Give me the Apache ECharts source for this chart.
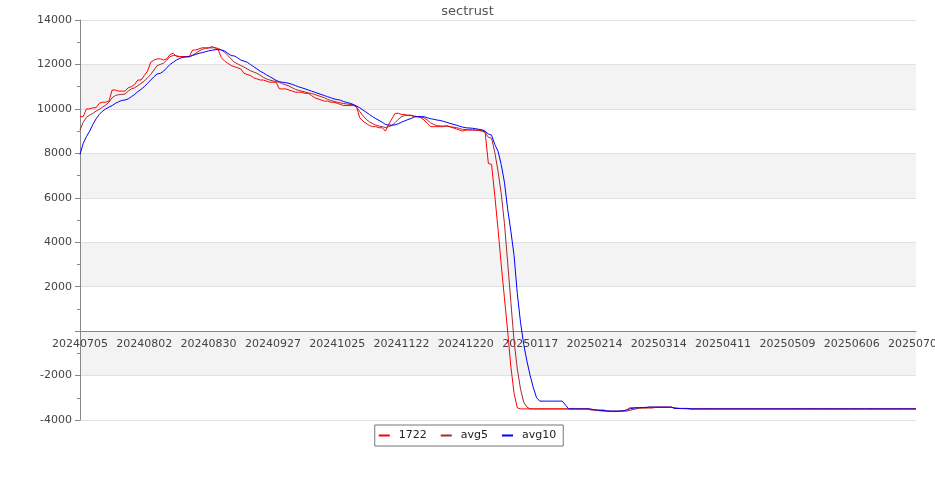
<!DOCTYPE html>
<html><head><meta charset="utf-8">
<script src="https://cdn.jsdelivr.net/npm/echarts@6/dist/echarts.min.js"></script>
<style>html,body{margin:0;padding:0;background:#fff}#c{width:935px;height:500px}</style>
</head><body><div id="c"></div>
<script>
// categories: weekdays from 20240705 (label every 20th)
var startDate = '20240705';
var categoryCount = 261;
var seriesNames = ['1722', 'avg5', 'avg10'];

var s1722 = [
9650,9650,10000,10000,10050,10050,10250,10300,10300,10350,
10850,10850,10800,10800,10800,10950,11000,11100,11300,11300,
11500,11700,12100,12200,12250,12250,12200,12250,12450,12500,
12350,12350,12350,12350,12350,12650,12650,12700,12750,12750,
12750,12800,12750,12650,12300,12150,12050,11950,11900,11850,
11800,11600,11550,11500,11400,11350,11300,11300,11250,11200,
11200,11200,10900,10900,10900,10850,10800,10750,10750,10750,
10700,10700,10600,10500,10450,10400,10350,10350,10300,10300,
10250,10200,10150,10150,10150,10150,10100,9600,9450,9350,
9250,9200,9200,9150,9150,9000,9300,9550,9800,9800,
9750,9750,9700,9700,9650,9650,9600,9500,9350,9200,
9200,9200,9200,9200,9250,9200,9150,9100,9050,9000,
9050,9050,9050,9050,9050,9000,8950,7550,7500,6100,
4600,3000,1500,0,-1600,-2800,-3450,-3500,-3500,-3500,
-3500,-3500,-3500,-3500,-3500,-3500,-3500,-3500,-3500,-3500,
-3500,-3500,-3500,-3500,-3500,-3500,-3500,-3500,-3500,-3550,
-3550,-3550,-3550,-3550,-3620,-3620,-3620,-3620,-3600,-3600,
-3550,-3450,-3450,-3450,-3450,-3450,-3450,-3420,-3420,-3420,
-3420,-3420,-3420,-3420,-3420,-3480,-3480,-3480,-3480,-3480,
-3500,-3500,-3500,-3500,-3500,-3500,-3500,-3500,-3500,-3500,
-3500,-3500,-3500,-3500,-3500,-3500,-3500,-3500,-3500,-3500,
-3500,-3500,-3500,-3500,-3500,-3500,-3500,-3500,-3500,-3500,
-3500,-3500,-3500,-3500,-3500,-3500,-3500,-3500,-3500,-3500,
-3500,-3500,-3500,-3500,-3500,-3500,-3500,-3500,-3500,-3500,
-3500,-3500,-3500,-3500,-3500,-3500,-3500,-3500,-3500,-3500,
-3500,-3500,-3500,-3500,-3500,-3500,-3500,-3500,-3500,-3500,
-3500
];

var avg5 = [
9050,9400,9620,9720,9800,9900,9980,10080,10170,10300,
10500,10600,10640,10650,10670,10800,10900,10950,11050,11150,
11250,11400,11550,11750,11950,12000,12060,12200,12350,12400,
12400,12350,12350,12350,12350,12420,12500,12600,12680,12720,
12740,12750,12750,12720,12650,12550,12400,12250,12100,12030,
11950,11880,11800,11720,11660,11600,11520,11420,11350,11300,
11260,11230,11200,11130,11080,11030,10950,10880,10830,10800,
10760,10720,10690,10650,10600,10550,10500,10430,10380,10340,
10300,10270,10240,10220,10200,10190,10080,9880,9700,9530,
9420,9340,9270,9230,9200,9160,9200,9250,9380,9530,
9650,9700,9720,9720,9680,9650,9630,9600,9500,9380,
9300,9250,9230,9230,9220,9200,9180,9160,9120,9080,
9070,9060,9050,9040,9030,9010,8950,8720,8680,8050,
7200,6200,4850,3100,1300,-450,-1700,-2600,-3200,-3420,
-3500,-3500,-3500,-3500,-3500,-3500,-3500,-3500,-3500,-3500,
-3500,-3500,-3500,-3500,-3500,-3500,-3500,-3500,-3500,-3510,
-3540,-3570,-3590,-3600,-3600,-3600,-3600,-3600,-3600,-3600,
-3600,-3570,-3530,-3500,-3460,-3460,-3460,-3460,-3460,-3430,
-3430,-3430,-3430,-3430,-3440,-3450,-3470,-3490,-3490,-3500,
-3500,-3500,-3500,-3500,-3500,-3500,-3500,-3500,-3500,-3500,
-3500,-3500,-3500,-3500,-3500,-3500,-3500,-3500,-3500,-3500,
-3500,-3500,-3500,-3500,-3500,-3500,-3500,-3500,-3500,-3500,
-3500,-3500,-3500,-3500,-3500,-3500,-3500,-3500,-3500,-3500,
-3500,-3500,-3500,-3500,-3500,-3500,-3500,-3500,-3500,-3500,
-3500,-3500,-3500,-3500,-3500,-3500,-3500,-3500,-3500,-3500,
-3500,-3500,-3500,-3500,-3500,-3500,-3500,-3500,-3500,-3500,
-3500
];

var avg10 = [
7950,8450,8750,9000,9300,9550,9750,9900,10000,10080,
10150,10250,10320,10380,10400,10450,10550,10650,10780,10880,
11000,11150,11300,11450,11570,11600,11700,11850,12000,12100,
12200,12270,12320,12340,12350,12400,12450,12500,12530,12570,
12610,12640,12660,12670,12650,12600,12500,12400,12380,12300,
12200,12150,12100,12000,11900,11800,11700,11620,11530,11450,
11370,11280,11220,11200,11180,11150,11100,11050,10990,10950,
10900,10850,10800,10750,10700,10650,10600,10550,10500,10450,
10420,10390,10330,10290,10250,10200,10130,10050,9950,9850,
9750,9650,9560,9480,9400,9300,9270,9270,9280,9330,
9400,9460,9520,9570,9640,9650,9650,9650,9600,9560,
9530,9500,9480,9440,9400,9350,9310,9270,9220,9180,
9150,9140,9130,9110,9080,9060,9000,8870,8820,8400,
8100,7500,6700,5500,4500,3400,1700,400,-600,-1350,
-2000,-2550,-3000,-3150,-3150,-3150,-3150,-3150,-3150,-3150,
-3150,-3330,-3500,-3500,-3500,-3500,-3500,-3500,-3500,-3520,
-3550,-3560,-3570,-3580,-3590,-3600,-3600,-3600,-3600,-3580,
-3550,-3500,-3470,-3450,-3450,-3440,-3430,-3420,-3420,-3420,
-3420,-3420,-3420,-3420,-3420,-3480,-3480,-3480,-3480,-3480,
-3500,-3500,-3500,-3500,-3500,-3500,-3500,-3500,-3500,-3500,
-3500,-3500,-3500,-3500,-3500,-3500,-3500,-3500,-3500,-3500,
-3500,-3500,-3500,-3500,-3500,-3500,-3500,-3500,-3500,-3500,
-3500,-3500,-3500,-3500,-3500,-3500,-3500,-3500,-3500,-3500,
-3500,-3500,-3500,-3500,-3500,-3500,-3500,-3500,-3500,-3500,
-3500,-3500,-3500,-3500,-3500,-3500,-3500,-3500,-3500,-3500,
-3500,-3500,-3500,-3500,-3500,-3500,-3500,-3500,-3500,-3500,
-3500
];

var yTicks = {min: -4000, max: 14000, step: 2000};

function buildDates(start, n) {
  var d = new Date(Date.UTC(+start.slice(0,4), +start.slice(4,6)-1, +start.slice(6,8)));
  var out = [];
  while (out.length < n) {
    var wd = d.getUTCDay();
    if (wd !== 0 && wd !== 6) {
      var m = d.getUTCMonth()+1, dd = d.getUTCDate();
      out.push('' + d.getUTCFullYear() + (m<10?'0':'') + m + (dd<10?'0':'') + dd);
    }
    d.setUTCDate(d.getUTCDate()+1);
  }
  return out;
}
var categories = buildDates(startDate, categoryCount);

var GRID_TOP = 20, GRID_BOTTOM = 80, H = 500;
var plotH = H - GRID_TOP - GRID_BOTTOM;
// shift the category axis up so it sits on the value 0
var zeroOffset = -plotH * (0 - yTicks.min) / (yTicks.max - yTicks.min);

var FONT = 'DejaVu Sans';
var chart = echarts.init(document.getElementById('c'), null, {renderer: 'canvas'});
chart.setOption({
  animation: false,
  backgroundColor: '#fff',
  textStyle: {fontFamily: FONT},
  title: {
    text: 'sectrust', left: 'center', top: 0,
    textStyle: {fontFamily: FONT, fontSize: 13, fontWeight: 'normal', color: '#555'}
  },
  legend: {
    left: 'center', top: 425,
    orient: 'horizontal',
    borderColor: '#777', borderWidth: 1, borderRadius: 0,
    padding: [5, 7, 5, 4],
    itemGap: 14, itemWidth: 11, itemHeight: 2,
    icon: 'rect',
    textStyle: {fontFamily: FONT, fontSize: 11, color: '#222', padding: [0, 0, 0, 4]},
    data: seriesNames
  },
  grid: {left: 80, right: 19, top: GRID_TOP, bottom: GRID_BOTTOM, containLabel: false, outerBoundsMode: 'none'},
  xAxis: {
    type: 'category', data: categories, boundaryGap: false,
    position: 'bottom', offset: zeroOffset,
    axisLine: {onZero: false, lineStyle: {color: '#888', width: 1}},
    axisTick: {show: false},
    axisLabel: {interval: 19, fontFamily: FONT, fontSize: 11, color: '#444', margin: 8, hideOverlap: false},
    splitLine: {show: false}
  },
  yAxis: {
    type: 'value', min: yTicks.min, max: yTicks.max, interval: yTicks.step,
    axisLine: {show: true, lineStyle: {color: '#888', width: 1}},
    axisTick: {show: true, length: 5, lineStyle: {color: '#888'}},
    minorTick: {show: true, splitNumber: 2, length: 3, lineStyle: {color: '#888'}},
    axisLabel: {fontFamily: FONT, fontSize: 11, color: '#444', margin: 8,
      formatter: function (v) { return v === 0 ? '' : String(v); }},
    splitLine: {show: true, lineStyle: {color: '#e0e0e0', width: 1}},
    splitArea: {show: true, areaStyle: {color: ['#ffffff', '#f3f3f3']}}
  },
  series: [
    {name: seriesNames[0], type: 'line', data: s1722, showSymbol: false, symbol: 'none',
     lineStyle: {color: '#ff0000', width: 1}, itemStyle: {color: '#ff0000'}, z: 3},
    {name: seriesNames[1], type: 'line', data: avg5, showSymbol: false, symbol: 'none',
     lineStyle: {color: '#a52a2a', width: 1}, itemStyle: {color: '#a52a2a'}, z: 2},
    {name: seriesNames[2], type: 'line', data: avg10, showSymbol: false, symbol: 'none',
     lineStyle: {color: '#0000ff', width: 1}, itemStyle: {color: '#0000ff'}, z: 4}
  ]
});
</script>
</body></html>
